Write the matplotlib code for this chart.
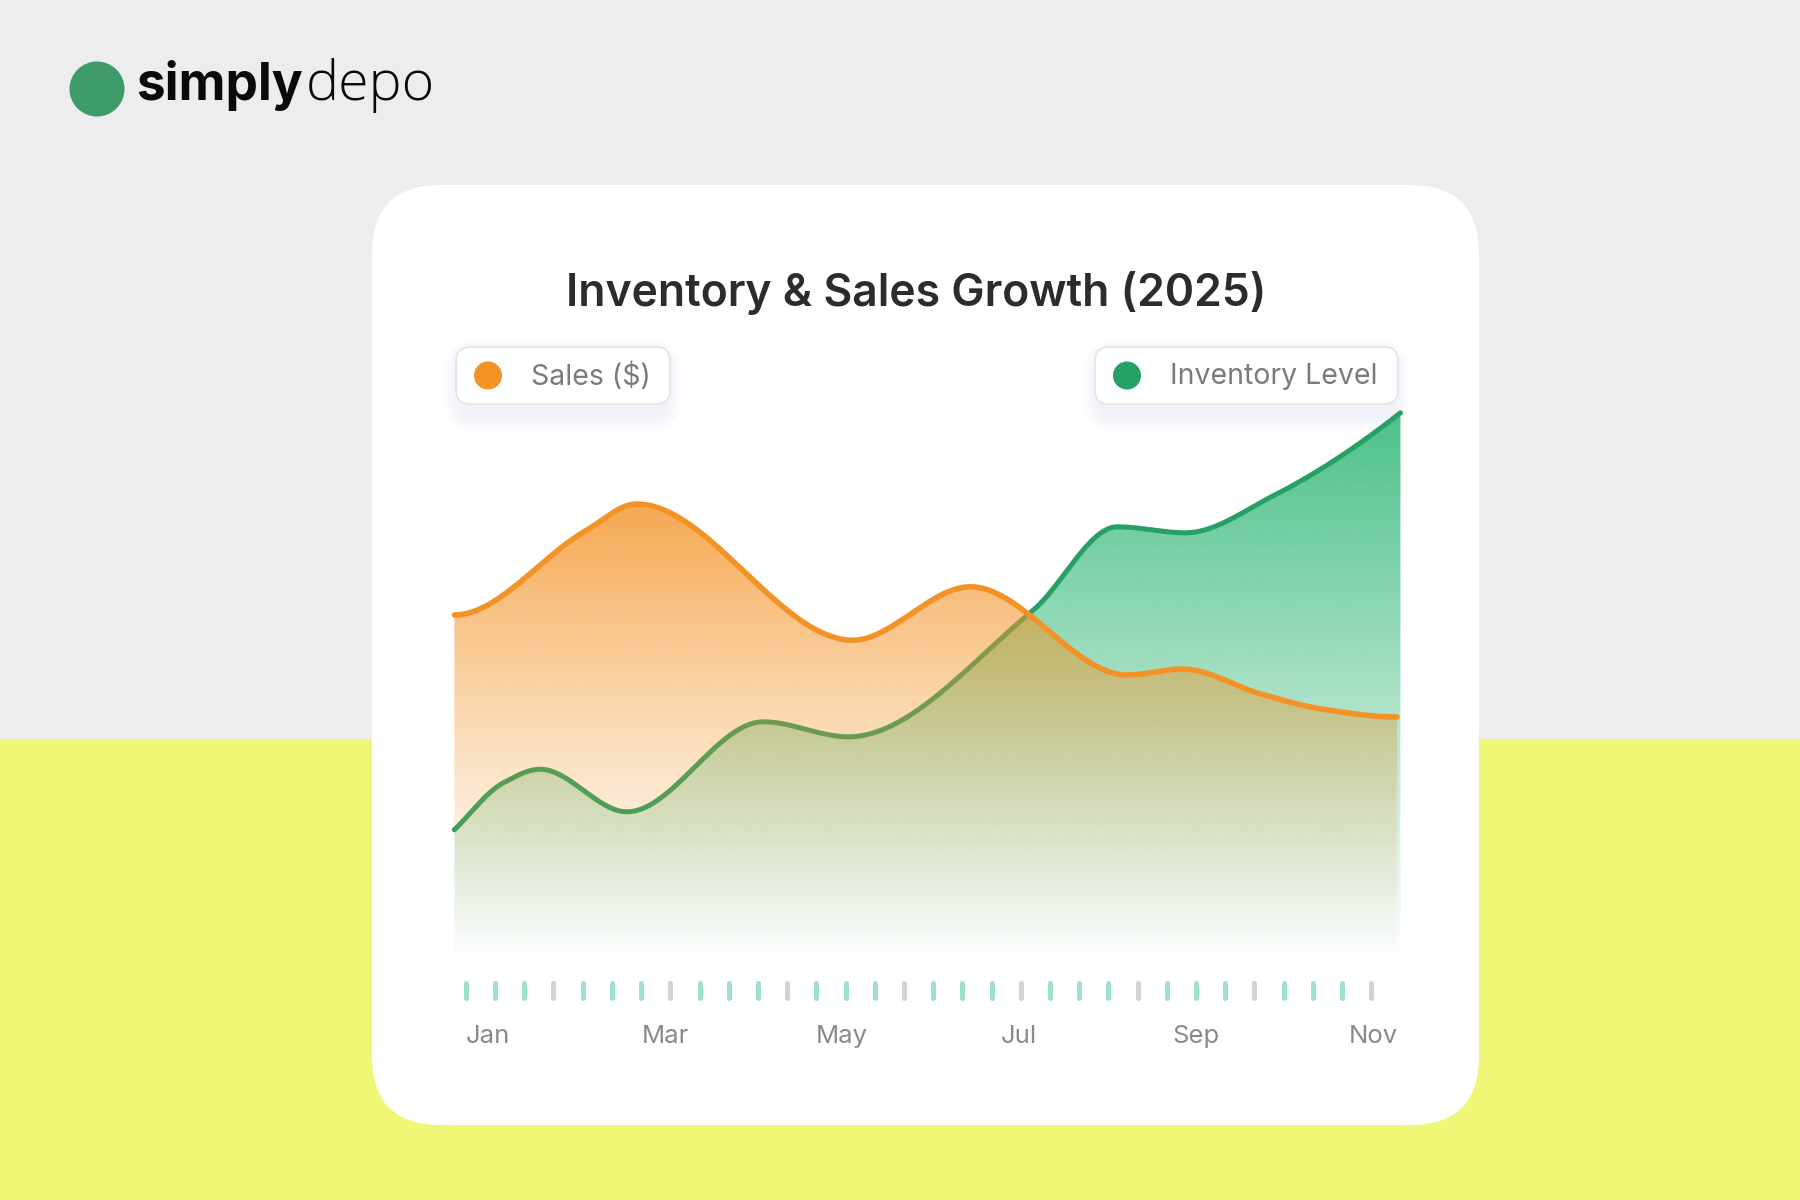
import numpy as np
import matplotlib
matplotlib.use("Agg")
import matplotlib.pyplot as plt
import matplotlib.colors as mcolors
from matplotlib.patches import FancyBboxPatch, Circle, Rectangle, Polygon

# ---------------- data ----------------
month_labels = ["Jan", "Mar", "May", "Jul", "Sep", "Nov"]
month_pos = [0, 2, 4, 6, 8, 10]

# positions in months (Jan = 0), values in arbitrary units
sales_x = [-0.38, 1.10, 1.68, 4.12, 5.45, 7.22, 7.85, 8.74, 9.43, 10.27]
sales_y = [57.5, 71.5, 76.0, 53.3, 62.2, 47.5, 48.5, 44.3, 41.8, 40.5]

inv_x = [-0.38, 0.17, 0.59, 1.57, 3.11, 4.07, 6.16, 7.11, 7.88, 8.89, 10.31]
inv_y = [21.7, 29.5, 31.8, 24.7, 39.7, 37.2, 58.3, 72.2, 71.2, 77.5, 91.2]

series_names = ["Sales ($)", "Inventory Level"]

# ---------------- styling ----------------
ORANGE = "#F39326"
GREEN = "#27A066"
GREEN_FILL = "#3DBB80"
TEXT_GRAY = "#7B7B7B"
FONT = "Inter"


def pchip(x, y, flat_ends=False, n=900):
    x = np.asarray(x, float)
    y = np.asarray(y, float)
    h = np.diff(x)
    d = np.diff(y) / h
    m = np.zeros_like(y)
    for k in range(1, len(x) - 1):
        if d[k - 1] * d[k] <= 0:
            m[k] = 0.0
        else:
            w1 = 2 * h[k] + h[k - 1]
            w2 = h[k] + 2 * h[k - 1]
            m[k] = (w1 + w2) / (w1 / d[k - 1] + w2 / d[k])

    def end(h0, h1, d0, d1):
        s = ((2 * h0 + h1) * d0 - h0 * d1) / (h0 + h1)
        if np.sign(s) != np.sign(d0):
            s = 0.0
        elif np.sign(d0) != np.sign(d1) and abs(s) > abs(3 * d0):
            s = 3 * d0
        return s

    if flat_ends:
        m[0] = 0.0
        m[-1] = 0.0
    else:
        m[0] = d[0]
        m[-1] = end(h[-1], h[-2], d[-1], d[-2])
    xs = np.linspace(x[0], x[-1], n)
    idx = np.clip(np.searchsorted(x, xs) - 1, 0, len(x) - 2)
    t = (xs - x[idx]) / h[idx]
    h00 = 2 * t**3 - 3 * t**2 + 1
    h10 = t**3 - 2 * t**2 + t
    h01 = -2 * t**3 + 3 * t**2
    h11 = t**3 - t**2
    ys = h00 * y[idx] + h10 * h[idx] * m[idx] + h01 * y[idx + 1] + h11 * h[idx] * m[idx + 1]
    return xs, ys


def gradient_fill(ax, xs, ys, color, a_top, z, power=1.0, base=0.0):
    verts = [(xs[0], base)] + list(zip(xs, ys)) + [(xs[-1], base)]
    patch = Polygon(verts, closed=True, facecolor="none", edgecolor="none")
    ax.add_patch(patch)
    rgb = mcolors.to_rgb(color)
    n = 256
    img = np.zeros((n, 1, 4))
    img[:, 0, :3] = rgb
    img[:, 0, 3] = a_top * np.linspace(0.0, 1.0, n) ** power
    im = ax.imshow(img, extent=[xs[0], xs[-1], base, max(ys)], origin="lower",
                   aspect="auto", zorder=z, interpolation="bilinear")
    im.set_clip_path(patch)


W, H = 1800, 1200
fig = plt.figure(figsize=(18, 12), dpi=100)

# ---------- background layer in pixel coordinates ----------
bg = fig.add_axes([0, 0, 1, 1])
bg.set_xlim(0, W)
bg.set_ylim(H, 0)
bg.axis("off")
bg.add_patch(Rectangle((0, 0), W, 739, facecolor="#EDEDEF", edgecolor="none", zorder=0))
bg.add_patch(Rectangle((0, 739), W, H - 739, facecolor="#F0F676", edgecolor="none", zorder=0))

# card
bg.add_patch(FancyBboxPatch((372 + 69, 185 + 69), 1107 - 138, 940 - 138,
                            boxstyle="round,pad=69,rounding_size=69",
                            facecolor="white", edgecolor="none", zorder=1))

# logo
bg.add_patch(Circle((97, 89), 27.5, facecolor="#3E9A66", edgecolor="none", zorder=2))
t1 = bg.text(136, 100, "simply", fontsize=37, fontweight="bold", family=FONT,
             color="#0A0A0A", va="baseline", ha="left", zorder=3)
fig.canvas.draw()
r = fig.canvas.get_renderer()
bb = t1.get_window_extent(r)
bg.text(bb.x1 + 3, 100, "depo", fontsize=40, fontweight="light", family="Open Sans",
        color="#0A0A0A", va="baseline", ha="left", zorder=3)

# title
bg.text(916, 293, "Inventory & Sales Growth (2025)", fontsize=32, fontweight="semibold",
        family=FONT, color="#2C2C2C", ha="center", va="center", zorder=3)


# legends
def legend_box(x0, x1, y0, y1, dot_x, text_x, color, label):
    wd, ht = x1 - x0, y1 - y0
    rad = 14
    for i in range(6):
        p = 2 + i * 3
        bg.add_patch(FancyBboxPatch((x0 + rad + 6, y0 + rad + 10), wd - 2 * rad - 12, ht - 2 * rad,
                                    boxstyle=f"round,pad={rad + p},rounding_size={rad + p}",
                                    facecolor="#C9CDF6", edgecolor="none", alpha=0.045, zorder=2))
    bg.add_patch(FancyBboxPatch((x0 + rad, y0 + rad), wd - 2 * rad, ht - 2 * rad,
                                boxstyle=f"round,pad={rad},rounding_size={rad}",
                                facecolor="white", edgecolor="#E3E3EA", linewidth=1.2, zorder=3))
    bg.add_patch(Circle((dot_x, (y0 + y1) / 2), 14, facecolor=color, edgecolor="none", zorder=4))
    bg.text(text_x, (y0 + y1) / 2 + 1, label, fontsize=20.5, family=FONT, color=TEXT_GRAY,
            ha="left", va="center", zorder=4)


legend_box(456, 670, 347, 404, 488, 531, ORANGE, series_names[0])
legend_box(1095, 1398, 347, 404, 1127, 1170, "#27A066", series_names[1])

# ---------- chart axes ----------
px_l, px_r, px_t, px_b = 400, 1450, 405, 1080
ax = fig.add_axes([px_l / W, 1 - px_b / H, (px_r - px_l) / W, (px_b - px_t) / H])
ax.set_facecolor("none")
ax.axis("off")

sx, sy = pchip(sales_x, sales_y, flat_ends=True)
ix, iy = pchip(inv_x, inv_y)

gradient_fill(ax, ix, iy, GREEN_FILL, 0.92, 1)
ax.plot(ix, iy, color=GREEN, lw=3.6, solid_capstyle="round", zorder=2)
gradient_fill(ax, sx, sy, ORANGE, 0.80, 3, power=1.3)
ax.plot(sx, sy, color=ORANGE, lw=4.0, solid_capstyle="round", zorder=4)

# decorative tick dashes
tick_x = np.linspace(-0.25, 9.98, 32)
tick_c = ["#D3D3D3" if (k % 4 == 3) else "#9EE2C4" for k in range(32)]
ax.vlines(tick_x, -3.9, -6.3, colors=tick_c, lw=3.6, capstyle="round", zorder=2)

for lab, p in zip(month_labels, month_pos):
    ax.text(p, -12.7, lab, fontsize=18.5, family=FONT, color="#8A8A8A",
            ha="center", va="center")

ax.set_xlim((px_l - 488) / 88.5, (px_r - 488) / 88.5)
ax.set_ylim((960 - px_b) / 6, (960 - px_t) / 6)

fig.savefig("out.png", dpi=100)
